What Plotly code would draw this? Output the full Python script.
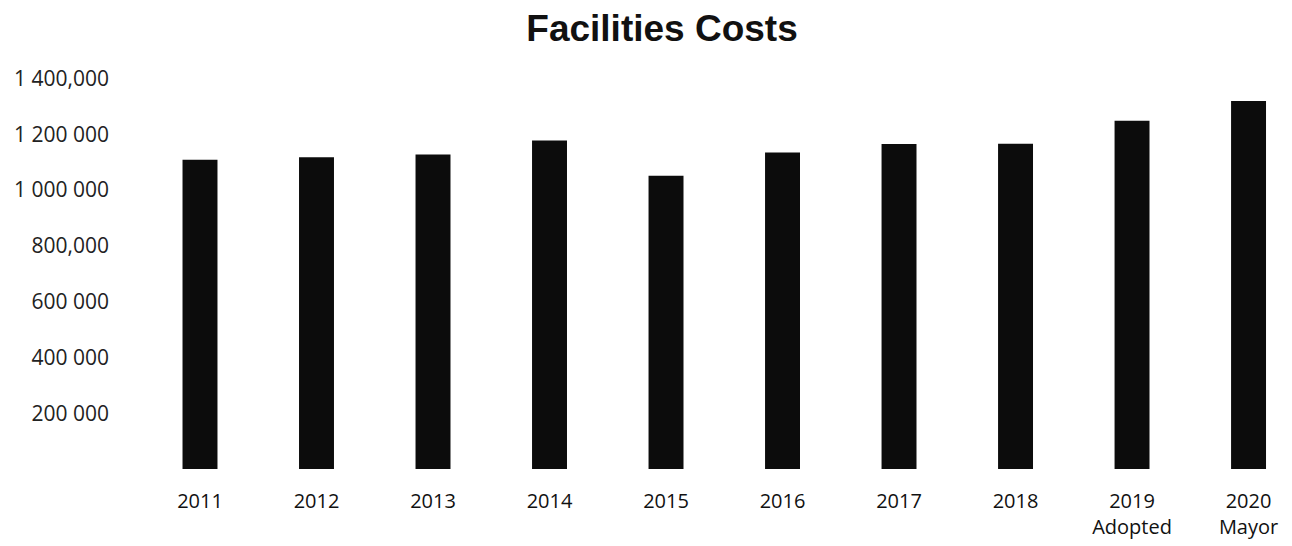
import plotly.graph_objects as go

categories = ["2011", "2012", "2013", "2014", "2015", "2016", "2017", "2018",
              "2019<br>Adopted", "2020<br>Mayor"]
costs = [1108000, 1117000, 1127000, 1177000, 1051000, 1134000, 1165000, 1166000,
         1248000, 1319000]
y_tick_vals = [200000, 400000, 600000, 800000, 1000000, 1200000, 1400000]
y_tick_text = ["200 000", "400 000", "600 000", "800,000", "1 000 000", "1 200 000", "1 400,000"]

W, H = 1284, 538  # page body has an 8px margin

fig = go.Figure(
    go.Bar(
        x=categories,
        y=costs,
        width=0.30,
        marker=dict(color="#0c0c0c", line=dict(width=0)),
    )
)

fig.update_layout(
    width=W,
    height=H,
    paper_bgcolor="white",
    plot_bgcolor="white",
    margin=dict(l=132, r=0, t=62, b=77),
    showlegend=False,
    title=dict(
        text="<b>Facilities Costs</b>",
        font=dict(family="Liberation Sans, Arial, sans-serif", size=37, color="#111111"),
        x=654 / W,
        xref="container",
        xanchor="center",
        y=1 - 20 / H,
        yref="container",
        yanchor="middle",
    ),
    xaxis=dict(
        type="category",
        range=[-0.515, 9.373],
        showgrid=False,
        showline=False,
        zeroline=False,
        ticks="",
        tickfont=dict(family="Open Sans, sans-serif", size=20, color="#111111"),
        ticklabelstandoff=18,
    ),
    yaxis=dict(
        range=[0, 1430000],
        tickvals=y_tick_vals,
        ticktext=y_tick_text,
        showgrid=False,
        showline=False,
        zeroline=False,
        ticks="",
        tickfont=dict(family="Open Sans, sans-serif", size=21, color="#222222"),
        ticklabelstandoff=30,
    ),
)

fig.write_html("out.html")
